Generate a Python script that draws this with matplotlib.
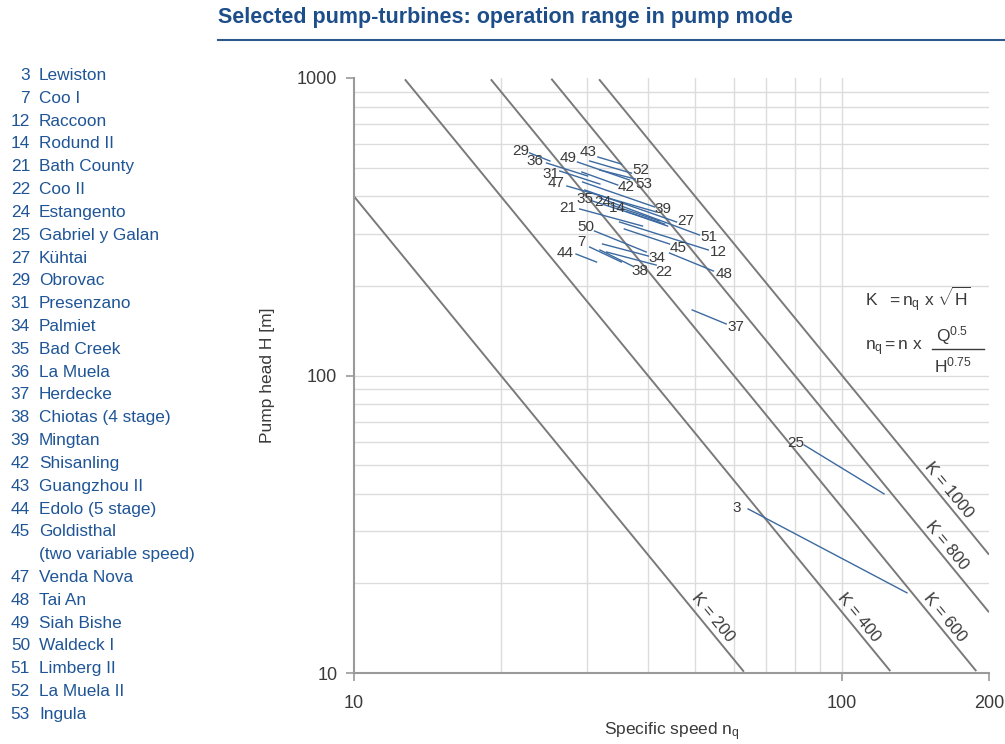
import numpy as np
import matplotlib
matplotlib.use("Agg")
import matplotlib.pyplot as plt

plt.rcParams['font.family'] = ['Liberation Sans', 'DejaVu Sans']
plt.rcParams['mathtext.fontset'] = 'custom'
plt.rcParams['mathtext.rm'] = 'Liberation Sans'
plt.rcParams['mathtext.it'] = 'Liberation Sans'
plt.rcParams['mathtext.bf'] = 'Liberation Sans:bold'

# ---- plant register -------------------------------------------------------
legend_ids = ['3', '7', '12', '14', '21', '22', '24', '25', '27', '29', '31',
              '34', '35', '36', '37', '38', '39', '42', '43', '44', '45', '',
              '47', '48', '49', '50', '51', '52', '53']
legend_names = ['Lewiston', 'Coo I', 'Raccoon', 'Rodund II', 'Bath County',
                'Coo II', 'Estangento', 'Gabriel y Galan', 'Kühtai', 'Obrovac',
                'Presenzano', 'Palmiet', 'Bad Creek', 'La Muela', 'Herdecke',
                'Chiotas (4 stage)', 'Mingtan', 'Shisanling', 'Guangzhou II',
                'Edolo (5 stage)', 'Goldisthal', '(two variable speed)',
                'Venda Nova', 'Tai An', 'Siah Bishe', 'Waldeck I',
                'Limberg II', 'La Muela II', 'Ingula']

# ---- pump-mode operating ranges (specific speed n_q, head H in m) ---------
seg_ids = [3, 7, 12, 14, 21, 22, 24, 25, 27, 29, 31, 34, 35, 36, 37, 38, 39,
           42, 43, 44, 45, 47, 48, 49, 50, 51, 52, 53]
nq_start = [64.2, 30.4, 35.0, 36.3, 29.0, 32.9, 33.7, 83.6, 29.7, 22.9, 26.4,
            32.3, 30.8, 24.8, 49.3, 31.9, 29.4, 29.3, 31.6, 28.5, 35.8, 27.3,
            44.3, 28.7, 31.1, 31.9, 30.4, 31.9]
h_start = [35.6, 270.3, 328.1, 354.6, 362.9, 260.1, 374.3, 58.4, 420.3, 559.8,
           486.8, 276.7, 386.0, 517.9, 166.1, 264.2, 447.1, 483.0, 542.6,
           256.0, 310.8, 433.5, 258.0, 521.9, 306.0, 395.0, 526.1, 490.6]
nq_end = [135.8, 35.3, 53.2, 43.9, 39.0, 41.6, 42.3, 121.9, 45.8, 25.2, 31.9,
          40.1, 43.3, 30.1, 57.9, 37.2, 41.3, 34.7, 35.3, 31.4, 44.3, 41.6,
          54.5, 36.7, 39.7, 51.0, 37.0, 37.7]
h_end = [18.6, 240.7, 264.2, 318.0, 318.0, 235.1, 330.6, 40.0, 328.1, 526.1,
         440.1, 252.1, 323.0, 468.5, 149.0, 233.3, 368.6, 436.8, 513.9, 240.7,
         276.7, 354.6, 224.5, 454.0, 260.1, 296.7, 479.0, 457.6]

# constant K = n_q * sqrt(H) reference lines
k_values = [200, 400, 600, 800, 1000]

# ---- label placement (which end, offset in pixels: right, down) -----------
label_place = {
    3: ('s', -11, -1), 7: ('s', -8, -5), 12: ('e', 10, 2), 14: ('s', -10, -4),
    21: ('s', -12, -1), 22: ('e', 8, 7), 24: ('s', -9, -3), 25: ('s', -8, -2),
    27: ('e', 9, -1), 29: ('s', -9, -2), 31: ('s', -9, 3), 34: ('e', 9, 2),
    35: ('s', -7, -2), 36: ('s', -12, -2), 37: ('e', 10, 3), 38: ('e', 7, 5),
    39: ('e', 8, 2), 42: ('e', 8, 2), 43: ('s', -10, -5), 44: ('s', -11, -1),
    45: ('e', 9, 4), 47: ('s', -11, -3), 48: ('e', 11, 3), 49: ('s', -9, -4),
    50: ('s', -9, -4), 51: ('e', 9, 2), 52: ('e', 10, -3), 53: ('e', 9, 5),
}
k_label_h = {200: 15.4, 400: 15.4, 600: 15.4, 800: 26.9, 1000: 41.2}

W, H = 1005, 744
DPI = 100
fig = plt.figure(figsize=(W / DPI, H / DPI), dpi=DPI)
ax = fig.add_axes([354 / W, 1 - 673 / H, (989 - 354) / W, (673 - 78) / H])


def fpos(px, py):
    """Pixel position (from top-left) to figure fraction."""
    return px / W, 1 - py / H


GRID = '#dcdcdc'
KCOL = '#7a7a7a'
SEGCOL = '#3c6aa0'
TXT = '#3a3a3a'
BLUE = '#1f5596'

ax.set_xscale('log')
ax.set_yscale('log')
ax.set_xlim(10, 200)
ax.set_ylim(10, 1000)

# grid lines inside the plotting area
for xv in [20, 30, 40, 50, 60, 70, 80, 90, 100]:
    ax.axvline(xv, color=GRID, lw=1.0, zorder=0)
for yv in list(range(20, 100, 10)) + [100] + list(range(200, 1000, 100)):
    ax.axhline(yv, color=GRID, lw=1.0, zorder=0)

# K lines
nn = np.logspace(1, np.log10(200), 400)
for k in k_values:
    hh = (k / nn) ** 2
    m = (hh >= 10) & (hh <= 1000)
    ax.plot(nn[m], hh[m], color=KCOL, lw=1.4, zorder=2, solid_capstyle='butt')

# operating ranges
for i, sid in enumerate(seg_ids):
    ax.plot([nq_start[i], nq_end[i]], [h_start[i], h_end[i]],
            color=SEGCOL, lw=1.0, zorder=3)
    end, dx, dy = label_place[sid]
    if end == 's':
        xy = (nq_start[i], h_start[i])
    else:
        xy = (nq_end[i], h_end[i])
    ax.annotate(str(sid), xy=xy, xytext=(dx * 0.72, -dy * 0.72),
                textcoords='offset points', ha='center', va='center',
                fontsize=11, color=TXT, zorder=4)

# K labels, rotated along the lines
fig.canvas.draw()
p0 = ax.transData.transform((10, 100))
p1 = ax.transData.transform((100, 1))
ang = np.degrees(np.arctan2(p1[1] - p0[1], p1[0] - p0[0]))
for k in k_values:
    hv = k_label_h[k]
    xv = k / np.sqrt(hv)
    ax.annotate(f'K = {k}', xy=(xv, hv), xytext=(9.5, 0),
                textcoords='offset points', ha='center', va='center',
                rotation=ang, rotation_mode='anchor', fontsize=12,
                color=TXT, zorder=4)

# formulas
fig.text(*fpos(865, 299), r'$\mathregular{K\ \ = n_q\ x\ \sqrt{H}}$',
         fontsize=12.5, color=TXT, va='center', ha='left')
fig.text(*fpos(865, 348), r'$\mathregular{n_q = n\ x}$',
         fontsize=12.5, color=TXT, va='center', ha='left')
fig.text(*fpos(936, 336), r'$\mathregular{Q^{0.5}}$',
         fontsize=12.5, color=TXT, va='center', ha='left')
fig.text(*fpos(934, 365), r'$\mathregular{H^{0.75}}$',
         fontsize=12.5, color=TXT, va='center', ha='left')
fx0, fy0 = fpos(932, 349)
fx1, _ = fpos(984, 349)
fig.add_artist(plt.Line2D([fx0, fx1], [fy0, fy0], color=TXT, lw=1.0))

# axes styling
for s in ['top', 'right']:
    ax.spines[s].set_visible(False)
for s in ['left', 'bottom']:
    ax.spines[s].set_color('#9a9a9a')
    ax.spines[s].set_linewidth(1.5)
ax.set_xticks([10, 100, 200])
ax.set_xticklabels(['10', '100', '200'])
ax.set_yticks([10, 100, 1000])
ax.set_yticklabels(['10', '100', '1000'])
ax.xaxis.set_minor_locator(matplotlib.ticker.NullLocator())
ax.yaxis.set_minor_locator(matplotlib.ticker.NullLocator())
ax.tick_params(axis='both', which='major', color='#9a9a9a', length=6,
               width=1.2, labelsize=13, labelcolor=TXT)
ax.tick_params(axis='x', pad=10)
ax.tick_params(axis='y', pad=6)

ax.set_xlabel(r'Specific speed n$\mathregular{_q}$', fontsize=12.5, color=TXT,
              labelpad=6)
ax.set_ylabel('Pump head H [m]', fontsize=12.5, color=TXT, labelpad=16)

# title and rule
fig.text(*fpos(218, 18), 'Selected pump-turbines: operation range in pump mode',
         fontsize=15.5, fontweight='bold', color='#1d4e89', va='center',
         ha='left')
rx0, ry = fpos(218, 40)
fig.add_artist(plt.Line2D([rx0, 1.0], [ry, ry], color='#2d5a8c', lw=1.5))

# plant register
for i, (pid, name) in enumerate(zip(legend_ids, legend_names)):
    tx, ty = fpos(30, 75.5 + i * 22.82)
    if pid:
        fig.text(tx, ty, pid, ha='right', va='center', fontsize=12.4,
                 color=BLUE)
    fig.text(39 / W, ty, name, ha='left', va='center', fontsize=12.4,
             color=BLUE)

fig.savefig('out.png', dpi=DPI)
